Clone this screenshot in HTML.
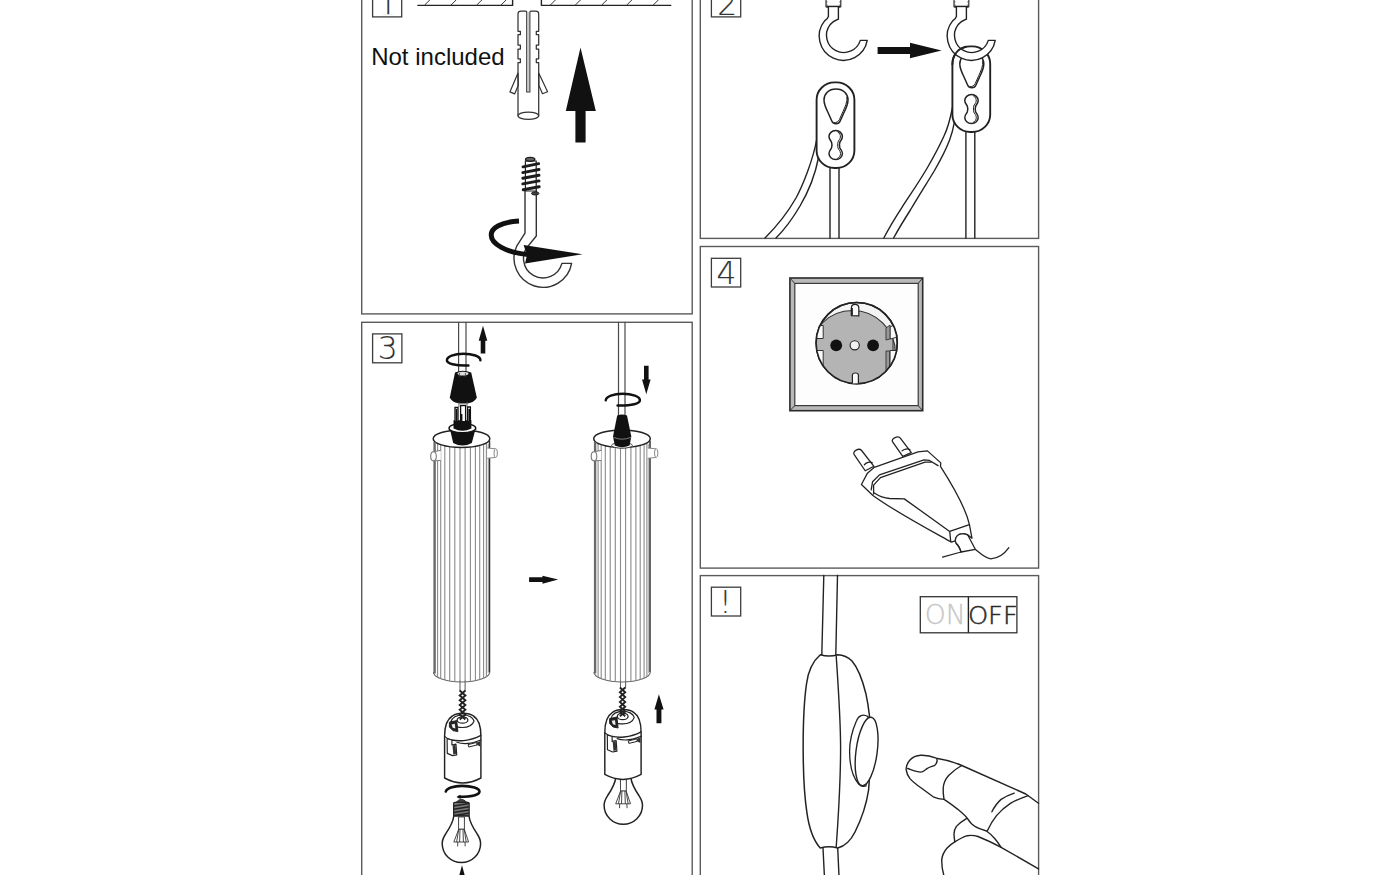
<!DOCTYPE html>
<html lang="en">
<head>
<meta charset="utf-8">
<title>Assembly instructions</title>
<style>
html,body{margin:0;padding:0;background:#fff;width:1400px;height:875px;overflow:hidden}
svg{display:block;position:absolute;left:0;top:0}
.b{fill:none;stroke:#5a5a5a;stroke-width:1.4}
.l{fill:none;stroke:#222;stroke-width:1.4;stroke-linecap:round;stroke-linejoin:round}
.w{fill:#fff;stroke:#222;stroke-width:1.4;stroke-linecap:round;stroke-linejoin:round}
.t{fill:none;stroke:#333;stroke-width:1}
.k{fill:#111;stroke:none}
.num{font-family:"DejaVu Sans Light","DejaVu Sans",sans-serif;font-weight:200;fill:#333;stroke:#333;stroke-width:.15}
.box{fill:#fff;stroke:#3c3c3c;stroke-width:1.3}
</style>
</head>
<body>
<svg width="1400" height="875" viewBox="0 0 1400 875">
<!-- PANEL BORDERS -->
<g class="b">
<rect x="361.7" y="-10" width="330.5" height="323.9"/>
<rect x="700.3" y="-10" width="338.3" height="248.4"/>
<rect x="361.7" y="322.3" width="330.5" height="570"/>
<rect x="700.3" y="246.5" width="338.3" height="321.6"/>
<rect x="700.3" y="575.6" width="338.3" height="320"/>
</g>
<!-- PANEL1 -->
<g id="p1">
<!-- number box 1 -->
<rect class="box" x="372.6" y="-12" width="29.1" height="28.9"/>
<clipPath id="c1"><rect x="372" y="-12" width="30" height="26.15"/></clipPath><text class="num" x="377.8" y="15.6" font-size="31.4" clip-path="url(#c1)">1</text>
<!-- ceiling -->
<path class="l" d="M417.9,5.4H512.6V-2M541.4,-2V5.4H670.7"/>
<path class="t" d="M424.3,5.4l6,-6M450.7,5.4l6,-6M476.4,5.4l6,-6M500.7,5.4l6,-6M550,5.4l6,-6M575,5.4l6,-6M601.4,5.4l6,-6M626.4,5.4l6,-6M652.9,5.4l6,-6"/>
<text x="371.2" y="65" font-size="24" style="font-family:'Liberation Sans',sans-serif;fill:#111">Not included</text>
<!-- wall plug -->
<path class="w" d="M518,73 L509.9,91.9 L514.6,93.9 L518.3,85.2Z" style="stroke:#333;stroke-width:1.2"/>
<path class="w" d="M538.7,73 L547.6,91.7 L542.5,93.7 L538.9,85.6Z" style="stroke:#333;stroke-width:1.2"/>
<path d="M518,115.7 V62.6 H520.4 V58.8 H518 V49 H520.4 V45 H518 V34.7 H520.4 V31.3 H518 V13.8 Q518,11 521,11 H525.6 Q526.8,11 526.8,12.4 V91.9 H529.8 V12.4 Q529.8,11 531,11 H535.7 Q538.7,11 538.7,13.8 V31.3 H536.3 V34.7 H538.7 V45 H536.3 V49 H538.7 V58.8 H536.3 V62.6 H538.7 V115.7" style="fill:none;stroke:#333;stroke-width:1.25;stroke-linejoin:round"/>
<rect x="527.3" y="12" width="2" height="79.5" style="fill:#c8c8c8"/>
<ellipse cx="528.35" cy="115.7" rx="10.35" ry="3.7" style="fill:#fff;stroke:#333;stroke-width:1.25"/>
<!-- big arrow -->
<path class="k" d="M580.5,47.5 L595.8,111.1 H585.6 V142.6 H575.4 V111.1 H565.8Z"/>
<!-- screw hook -->
<path class="w" d="M525,190 V233.2 L516.7,246.2 A29,29 0 1 0 571.6,263.4 L561.9,263.4 A19.5,19.5 0 1 1 529.2,244.7 L536.3,236 V190" style="stroke:#333"/>
<path d="M525.4,161 V191 H536.2 V161Z" style="fill:#fff;stroke:#222;stroke-width:1.2"/>
<path d="M523,166.8 L538.6,163.7 M522.8,172.6 L539,169.5 M522.8,178.2 L539,175.3 M522.8,183.9 L539,180.9 M523.2,189.7 L539.2,186.7" style="fill:none;stroke:#1c1c1c;stroke-width:2.9;stroke-linecap:round"/>
<ellipse cx="530.2" cy="159.3" rx="4.6" ry="1.9" style="fill:#666;stroke:#1c1c1c;stroke-width:1.4"/>
<ellipse cx="535.2" cy="193.4" rx="3.7" ry="1.6" style="fill:#444;stroke:#1c1c1c;stroke-width:1"/>
<!-- rotation arrow -->
<path d="M519,221 C501,222 491.2,228 491.2,235 C491.2,244 506,252.5 528,254.5" style="fill:none;stroke:#111;stroke-width:5"/>
<path class="k" d="M523.6,245 L582.5,254.3 L525,263.6 L527,255Z"/>
</g>
<!-- PANEL2 -->
<g id="p2">
<rect class="box" x="711.4" y="-12" width="29.3" height="28.9"/>
<text class="num" x="717.3" y="14.7" font-size="31.4">2</text>
<defs>
<g id="hook">
<path class="w" d="M826,-4 V6.8 H840.8 V-4" style="stroke:#333;stroke-width:1.2"/>
<path d="M826.6,6.6H840.2" style="stroke:#222;stroke-width:1.8;fill:none"/>
<path class="t" d="M826,-1h1.6M826,2h1.6M826,5h1.6M839.2,-1h1.6M839.2,2h1.6M839.2,5h1.6" style="stroke-width:.7"/>
<path class="w" d="M828.4,7.2 V16.4 Q828,18.6 824.6,20.9 A24.2,24.2 0 1 0 867.23,40.4 H860.3 A17.3,17.3 0 1 1 830,24.8 Q833,21.2 836.4,20 L838.4,19.2 V7.2"/>
</g>
<g id="grip">
<rect class="w" x="816.6" y="82.4" width="37.8" height="85.6" rx="18" ry="17.5" style="stroke-width:1.9"/>
<path class="l" d="M836,89 C843.5,89 848,94 848,100 C848,104.5 846,108.5 844,112.5 L840.2,121 C838.6,124.8 833.4,124.8 831.8,121 L828,112.5 C826,108.5 824,104.5 824,100 C824,94 828.5,89 836,89Z" style="stroke-width:1.5"/>
<path class="l" d="M847,97 C847.5,102 845,107 843,111.5 L839.4,119.6 C838.4,122 836,122.8 834.5,122.6" style="stroke-width:1"/>
<path class="l" d="M835.7,130.6 C839.6,130.6 842.4,133.4 842.4,136.6 C842.4,139.4 840.6,140.6 839.9,142 C839.4,143.5 839.4,146.5 839.9,148 C840.6,149.5 842.4,150.8 842.4,153.6 C842.4,156.8 839.6,159.6 835.7,159.6 C831.8,159.6 829,156.8 829,153.6 C829,150.8 830.8,149.5 831.5,148 C832,146.5 832,143.5 831.5,142 C830.8,140.6 829,139.4 829,136.6 C829,133.4 831.8,130.6 835.7,130.6Z" style="stroke-width:1.5"/>
<path class="l" d="M837.8,132 C839.8,133.2 840.6,135 840.4,137 C840.2,139.3 838.4,140.5 838,142 C837.6,143.5 837.6,146.5 838,148 C838.4,149.6 840.4,150.8 840.5,153.4 C840.6,155.6 839.4,157.4 837.6,158.3" style="stroke-width:1"/>
</g>
</defs>
<!-- left cables -->
<path class="l" d="M816.8,139 C813,160 803,185 796,198 C788,212 776,227 765,238"/>
<path class="l" d="M818.4,158 C815,176 807,194 800,206 C793,218 784,230 776,238"/>
<path class="l" d="M830,168V238M839,168V238"/>
<use href="#hook"/>
<use href="#grip"/>
<!-- arrow -->
<path class="k" d="M877.6,46.9 H910 V42.7 L941.6,50.5 L910,58.2 V54 H877.6Z"/>
<!-- right cables -->
<path class="l" d="M952.6,107 C950,120 948,128 944,136 C939,147 933,158 927.2,168 C919,182 910,195 902,207.3 C895,218 889,228 883.8,238"/>
<path class="l" d="M954.4,122 C953,130 951.5,135 949.6,140 C945,152 940,161 934.2,171 C927,183 918,197 910.4,210 C904,220 898,230 893.6,238"/>
<path class="l" d="M965.9,132V238M974.8,132V238"/>
<use href="#grip" transform="translate(135.8 -36)"/>
<use href="#hook" transform="translate(128 0)"/>
<path class="l" d="M952.4,64.5 C952.4,55 958,48.5 966,46.8 " style="stroke-width:1.9"/>
</g>
<!-- PANEL3 -->
<g id="p3">
<rect class="box" x="372.6" y="333.9" width="29.3" height="28.9"/>
<text class="num" x="377.7" y="359.3" font-size="31.4">3</text>
<defs>
<g id="tube">
<!-- pins -->
<path d="M433.4,438.7 V672 A28.2,10 0 0 0 489.8,672 V438.7Z" style="fill:#fff;stroke:none"/><path d="M433.4,672 A28.2,10 0 0 0 489.8,672" style="fill:none;stroke:#666;stroke-width:1.1"/>
<path d="M437.6,443.4V677.4M440.7,444.6V678.8M444.8,445.7V680.1M449.7,446.6V681.1M454.8,447.2V681.7M460.0,447.4V682.0M465.1,447.3V681.9M470.4,447.0V681.5M475.4,446.3V680.7M479.7,445.4V679.7M483.6,444.1V678.2M486.4,442.8V676.8" style="fill:none;stroke:#8a8a8a;stroke-width:1.1"/>
<ellipse class="w" cx="461.5" cy="438.7" rx="28.3" ry="8.7" style="stroke-width:1.5"/>
<path d="M434.6,442V673.5" style="fill:none;stroke:#6a6a6a;stroke-width:2.4"/><path d="M488.2,444V673" style="fill:none;stroke:#aaa;stroke-width:1"/><path d="M489.5,441V672" style="fill:none;stroke:#333;stroke-width:1.5"/>
<path d="M487.2,448 L495.6,448.8 V457.4 L487.2,458.3Z" style="fill:#fff;stroke:none"/>
<path d="M487.2,448 L495.6,448.8 M495.6,457.4 L487.2,458.3" style="fill:none;stroke:#888;stroke-width:1"/>
<ellipse cx="495.7" cy="453.1" rx="1.7" ry="4.4" style="fill:#fff;stroke:#888;stroke-width:1"/>
<path d="M433.6,451.6 L440.8,450.4 V460.6 L433.6,460.9Z" style="fill:#fff;stroke:none"/>
<path d="M433.6,451.7 L440.8,450.4 M433.8,460.9 L440.8,460.4" style="fill:none;stroke:#777;stroke-width:1"/>
<ellipse cx="433.5" cy="456.3" rx="2.8" ry="4.6" style="fill:#fff;stroke:#777;stroke-width:1.1"/>
</g>
<g id="holder" transform="translate(462.75 0) scale(0.963 1) translate(-462.85 0)">
<path class="w" d="M444,778 V736 C444,726 447,719 452,716 C455,713.6 459,713.2 462.8,713.2 C467,713.2 471,713.6 474,716 C479,719 481.7,726 481.7,736 V778 Q462.8,788 444,778Z" style="stroke-width:1.5"/>
<!-- top cap -->
<path class="l" d="M450.4,722 C452,717 457,715 462.8,715 C468,715 473,717 474.6,721 C473,725.5 468,727.5 462.5,727.5 C458,727.5 455,726.6 452.8,725" style="stroke-width:1.2"/>
<ellipse cx="462.6" cy="720" rx="5.6" ry="3.2" style="fill:#fff;stroke:#222;stroke-width:1.3"/>
<path d="M449,722.2 L456.6,720.6 L457.8,731.6 L452.6,730.6 L449,727Z" style="fill:#222;stroke:#222;stroke-width:1"/>
<path d="M451.2,724.4 L454.6,723.8 L455.2,728.6 L452.4,727.8Z" style="fill:#eee;stroke:none"/>
<!-- seam -->
<path class="l" d="M444.4,736.6 C446,738 448,739 450,739.6 M456.8,742.2 C463,744.4 472,743.8 481.6,740" style="stroke-width:1.2"/>
<path class="l" d="M481.6,735.4 C476,738.4 470,740 464,740.6 C459,741 455,740.8 451.6,740"/>
<!-- clip -->
<path class="w" d="M446.6,738.6 L451.6,740 V745 L455.8,744.2 L456.6,754.8 L452.2,755.6 L446.8,753.4Z" style="stroke-width:1.2"/>
<path d="M452.2,745.4 L455.4,744.8 L456,753.8 L453,754.6Z" style="fill:#333"/>
<!-- slot right -->
<path d="M468.4,744.6 L477.4,742.4 L477.6,745 L469,747Z" style="fill:#fff;stroke:#222;stroke-width:1"/>
<path d="M477.4,742.4 L481,741 V746.6 L477.6,745Z" style="fill:#333"/>
</g>
<g id="bulb">
<path class="w" d="M453.8,816 C453,823 449.6,828 445.6,834 C442.6,838.6 442.2,841 442.2,843.4 C442.2,854 450.8,862.5 461.4,862.5 C472,862.5 480.6,854 480.6,843.4 C480.6,841 480.2,838.6 477.2,834 C473.2,828 469.8,823 469,816Z" style="stroke-width:1.5"/>
<!-- filament -->
<path d="M458.4,817 L458.8,829 L453.8,842 H468.6 L464.2,829 L464.4,817 M458.8,829 H464.2 M460.4,817 L459.6,842 M462.6,817 L463.4,842 M457.8,842 L457.6,846.4 M465,842 L465.2,846.4 M458.8,829 L456.6,842 M464.2,829 L466.2,842" style="fill:none;stroke:#333;stroke-width:.9"/>
<path d="M458.6,817 H464.4 V829 H458.6Z" style="fill:#fff;stroke:#333;stroke-width:.8"/>
</g>
</defs>

<!-- LEFT ASSEMBLY -->
<path class="l" d="M458.6,322.3V374M466,322.3V374" style="stroke:#4a4a4a;stroke-width:1.2"/>
<path class="k" d="M483,325.8 L487.3,340.8 H485.3 V353.4 H480.7 V340.8 H478.7Z"/>
<use href="#tube"/>
<!-- lower black cone + collar -->
<path class="k" d="M450.4,431 L453.2,443 Q462.5,448 471.8,443 L475,431Z"/>
<ellipse cx="462.4" cy="428.2" rx="13.4" ry="4.6" style="fill:#fff;stroke:#111;stroke-width:1.4"/>
<!-- inner relief -->
<path d="M453.5,420.2 H471.4 V428.4 Q462.5,433 453.5,428.4Z" class="k"/>
<path d="M455,421 V407.5 H458 V421 M460.6,421 V405.5 H465.6 V421 M467.6,421 V407 H470.4 V421" style="fill:#fff;stroke:#111;stroke-width:1.3"/>
<path d="M456.5,421V409M469.2,421V409M461.6,421V414" style="fill:none;stroke:#111;stroke-width:1.6"/>
<!-- top cap -->
<path class="k" d="M455,372.6 L449.8,397.4 C452,402.4 458,403.6 463.3,403.6 C468.6,403.6 474.6,402.4 476.8,397.4 L471.2,372.6 Q463,368.8 455,372.6Z"/>
<ellipse cx="463" cy="373.6" rx="5.6" ry="1.9" style="fill:#ddd"/>
<path d="M459.4,373V376.6M465.4,373V376.6" style="stroke:#555;stroke-width:1;fill:none"/>
<path d="M458.9,402V407M467,402V407" style="fill:none;stroke:#555;stroke-width:.9"/>
<!-- rotation arc -->
<path d="M480.4,360.2 C480.6,356.4 472.5,353.7 463.5,353.7 C454,353.7 446.9,356.6 446.9,360.2 C446.9,363.6 455,365.9 468.4,365.5" style="fill:none;stroke:#111;stroke-width:2.5;stroke-linecap:round"/>
<!-- under tube -->
<path class="l" d="M460,681V691M465.1,681V691" style="stroke-width:1.1;stroke:#666"/>
<use href="#holder"/>
<path d="M459.7,690.6L465.4,695.4L459.7,700.2L465.4,705.0L459.7,709.8L465.4,714.6L459.7,719.4M465.4,690.6L459.7,695.4L465.4,700.2L459.7,705.0L465.4,709.8L459.7,714.6L465.4,719.4" style="fill:none;stroke:#222;stroke-width:1.9"/>
<!-- bulb rotation -->
<path d="M445.8,791.6 C446.5,788.2 453.5,785.9 462,785.9 C472,785.9 479.5,788.4 479.5,791.6 C479.5,794.8 472,796.9 459,796.9" style="fill:none;stroke:#111;stroke-width:2.6;stroke-linecap:round"/>
<path class="k" d="M456.4,796.9 L460.6,794.8 V798.8Z"/>
<!-- bulb screw -->
<path d="M456,802.4 Q461.4,796.4 466.8,802.4Z" style="fill:#444;stroke:#222;stroke-width:1"/>
<rect x="453.6" y="802.4" width="15.6" height="13.8" rx="1.2" style="fill:#777;stroke:#222;stroke-width:1.2"/>
<path d="M453.8,806 L469,803.6 M453.8,809.2 L469,806.8 M453.8,812.4 L469,810 M453.8,815.4 L469,813.2" style="fill:none;stroke:#222;stroke-width:1.5"/>
<use href="#bulb"/>
<path class="k" d="M462,865.2 L466,880 H458Z"/>
<!-- middle arrow -->
<path class="k" d="M529.1,577.3 H542.5 V575.7 L558.2,579.6 L542.5,583.8 V581.9 H529.1Z"/>

<!-- RIGHT ASSEMBLY -->
<path class="l" d="M618.5,322.3V416M625,322.3V416" style="stroke:#4a4a4a;stroke-width:1.2"/>
<path class="k" d="M646.3,394.2 L650.6,379.4 H648.6 V365.7 H644 V379.4 H642Z"/>
<use href="#tube" transform="translate(160.5 0)"/>
<ellipse cx="622" cy="445.4" rx="10.4" ry="2.8" style="fill:#fff;stroke:#333;stroke-width:.9"/>
<path class="k" d="M617.2,415.6 Q622,413.6 627,415.6 L631.3,436.4 L629.6,445.6 Q622,449 614.8,445.6 L613,436.4Z"/>
<path d="M613.6,437.4 Q622,441 630.8,437.4" style="fill:none;stroke:#888;stroke-width:.9"/>
<path d="M605.8,400.2 C606,396.4 613.5,393.8 622.6,393.8 C632.4,393.8 639.9,396.6 639.9,400.2 C639.9,403.6 632,405.8 617.6,405.5" style="fill:none;stroke:#111;stroke-width:2.5;stroke-linecap:round"/>
<path class="l" d="M620.5,681V688M625.6,681V688" style="stroke-width:1.1;stroke:#666"/>
<use href="#bulb" transform="translate(161.9 -38.2)"/>
<use href="#holder" transform="translate(160.2 -3.6)"/>
<path d="M619.9,687.5L625.2,692.3L619.9,697.1L625.2,701.9L619.9,706.7L625.2,711.5L619.9,716.3M625.2,687.5L619.9,692.3L625.2,697.1L619.9,701.9L625.2,706.7L619.9,711.5L625.2,716.3" style="fill:none;stroke:#222;stroke-width:1.9"/>
<path class="k" d="M658.9,694.3 L663.6,709.4 H661.4 V723.3 H656.5 V709.4 H654.4Z"/>
</g>
<!-- PANEL4 -->
<g id="p4">
<rect class="box" x="711.4" y="258.3" width="29.3" height="28.7"/>
<text class="num" x="716.4" y="284.1" font-size="31.4">4</text>
<!-- socket frame -->
<rect x="789.9" y="278" width="132.8" height="132.7" style="fill:#b9b9b9;stroke:#2a2a2a;stroke-width:1.6"/>
<rect x="794.8" y="283.4" width="123.4" height="122.2" style="fill:#fdfdfd;stroke:#3a3a3a;stroke-width:1.2"/>
<path d="M789.9,278l4.9,5.4M922.7,278l-4.5,5.4M789.9,410.7l4.9,-5.1M922.7,410.7l-4.5,-5.1" style="stroke:#333;stroke-width:1;fill:none"/>
<!-- socket -->
<clipPath id="sock"><circle cx="856.7" cy="343.1" r="40.4"/></clipPath>
<circle cx="856.7" cy="343.1" r="40.6" style="fill:#f4f4f4;stroke:#222;stroke-width:1.5"/>
<g clip-path="url(#sock)">
<circle cx="852.5" cy="353.5" r="43" style="fill:#b4b4b4;stroke:#333;stroke-width:1.2"/>
<!-- left cutouts -->
<path d="M815,325.5 H823.2 V338.5 H815Z M815,350.5 H823.2 V366 H815Z" style="fill:#fafafa;stroke:#333;stroke-width:1"/>
<!-- right cutouts -->
<path d="M890,327 L900,322 V336.5 L890,339Z M890,350.5 H900 V361 L890,369Z" style="fill:#fafafa;stroke:#333;stroke-width:1"/>
<path d="M886,328 L890,325 V339 L886,340Z M886,351 H889.6 V369 L886,372Z" style="fill:#999;stroke:#333;stroke-width:.9"/>
<path d="M893,339.5 V351" style="stroke:#333;stroke-width:1;fill:none"/>
</g>
<circle cx="856.7" cy="343.1" r="40.6" style="fill:none;stroke:#222;stroke-width:1.6"/>
<!-- earth clips -->
<path d="M851.4,315.6 V308 Q851.4,304.4 855,304.4 Q858.8,304.4 858.8,308 V315.8Z" style="fill:#fafafa;stroke:#222;stroke-width:1.2"/>
<path d="M851.9,315.4 V308" style="stroke:#222;stroke-width:2;fill:none"/>
<path d="M852.4,383.4 V375 Q852.4,373 855.4,373 Q858.4,373 858.4,375 V383.2" style="fill:#fafafa;stroke:#222;stroke-width:1.2"/>
<circle class="k" cx="836.2" cy="345.3" r="5.9"/>
<circle class="k" cx="873.1" cy="345.3" r="5.9"/>
<circle cx="854.7" cy="345.3" r="4.6" style="fill:#f2f2f2;stroke:#222;stroke-width:1.1"/>
<!-- plug -->
<g transform="translate(840 420) scale(0.17143)">
<g style="fill:#fff;stroke:#222;stroke-width:7.5;stroke-linecap:round;stroke-linejoin:round">
<path d="M147,296 L82,200 C72,182 110,160 126,178 L198,270Z"/>
<path d="M142,262 C150,250 176,240 188,250" style="fill:none"/>
<path d="M366,212 L306,126 C296,108 340,88 352,106 L416,190Z"/>
<path d="M362,180 C372,170 396,164 408,174" style="fill:none"/>
<path d="M125,376 L160,310 L200,276 L455,186 L510,180 L588,250 L586,270 C650,370 730,500 755,610 L770,690 L748,672 L700,665 L672,705 L650,712 C520,640 330,540 192,440Z"/>
<path d="M182,408 L190,360 L230,320 L490,232 L522,236 L572,266" style="fill:none"/>
<path d="M196,432 L196,380 L236,336 L496,246 L532,246" style="fill:none"/>
<path d="M200,426 C230,446 260,456 290,458 L375,460 L640,650 L755,610 M640,650 L646,710" style="fill:none"/>
<path d="M672,705 C672,680 690,664 710,664 C735,662 750,672 752,684 L790,755 L706,770 C700,750 690,730 678,720Z"/>
<path d="M678,720 C690,730 700,750 706,770" style="fill:none"/>
<path d="M598,800 L706,770 M790,755 C820,780 850,808 880,810 C920,808 960,780 985,745" style="fill:none"/>
</g>
</g>
</g>
<!-- PANEL5 -->
<g id="p5">
<rect class="box" x="711.4" y="587.2" width="29.3" height="28.8"/>
<text class="num" x="718.9" y="613.4" font-size="31.8">!</text>
<!-- ON OFF -->
<rect x="920.3" y="596.7" width="96.6" height="36.1" style="fill:#fff;stroke:#333;stroke-width:1.3"/>
<path d="M968.4,596.7V632.8" style="stroke:#222;stroke-width:1.4;fill:none"/>
<text class="num" x="924.7" y="624.3" font-size="26.7" style="fill:#c6c6c6;stroke:#c6c6c6;stroke-width:.3">ON</text>
<text class="num" x="967.9" y="624.4" font-size="24.6" textLength="49.8" lengthAdjust="spacingAndGlyphs" style="fill:#2a2a2a;stroke:#2a2a2a;stroke-width:.5">OFF</text>
<!-- cable top -->
<path class="l" d="M823.8,575.5 L821.8,655 M837.5,575.5 L835.8,655"/>
<path class="l" d="M823,848 L824.4,876 M837.7,848 L839,876"/>
<!-- switch body -->
<path class="w" d="M820.3,654.8 C812,662 808,672 806.5,684 C802,715 802,780 806.8,811.8 C809,828 813,840 820.3,848 C826,846.5 832,846.5 837.7,848 C846,846 851,840 855,832 C862,818 866.5,804 868.6,790 C870,772 871,752 870.8,738 C870.5,722 869,708 865.9,693.7 C862.5,680 858,668 852,661 C848,657 843,655 837.7,654.8 C832,656.5 826,656.5 820.3,654.8Z" style="stroke-width:1.5"/>
<path class="l" d="M836.2,656 C838.5,690 840.6,720 840.6,747.4 C840.6,780 838.5,815 836.2,847"/>
<!-- rocker -->
<path class="w" d="M868,716.6 C863,713.6 858.6,715.6 856.4,721 C851.6,732 849.6,742 849.6,751 C849.6,765 852.6,777 858.6,784 C860.6,786.2 863.6,786.8 866,786Z" style="stroke-width:1.3"/>
<ellipse class="w" cx="866.6" cy="751.5" rx="10.6" ry="34.5" transform="rotate(7.5 866.6 751.5)" style="stroke-width:1.4"/>
<!-- finger -->
<g class="l" style="stroke-width:1.4">
<path d="M1038.5,803.3 L1025.8,794 L961.8,765.5 C953,761.5 945,759.5 936.3,758.2 C931,756 926,755 920.9,755.2 C916,755.4 912.5,757 910,760 C907,763.5 905.8,766.5 906.2,769.8 C906.6,773.5 908,776 910,778.6 C913,782 917,785 920.9,787.8 L933.2,796.8 C937,798.5 940.5,799.2 944,799.4 C949,802.5 953.5,806 957.9,809.4 C961,812 964,814.5 966.4,817.2 C968.5,819.8 970,822.2 971.8,824.1 C975.5,827.5 981,829.5 986.5,831 C989.8,833.2 992.5,836 994.9,838.8 C997.2,841.5 999.2,844.4 1001.1,847.3"/>
<path d="M907.7,768.5 C912,770 916.5,772 920.9,772.1 C923.5,772 925.3,770 927,768.6 C929.5,767 932.5,766.4 934.8,765.3 C936.8,763.5 937.3,761.5 937,759.3"/>
<path d="M961.8,765.5 C957,768 952.5,771.5 948.6,775.5 C945.5,779 943.6,783.5 943.2,787.8 C943,791.5 943.3,795.5 944,799.4"/>
<path d="M1028.1,795.6 C1022,797.8 1016,800.2 1010.4,803.3 C1005,806.8 1000.4,811 996.5,815.6 C992.6,820.5 989.6,825.8 987.2,831"/>
<path d="M1014.2,793.2 C1009.6,794.8 1005,796.8 1001.1,799.4 C997.2,802.8 994.2,807.2 991.9,811.8"/>
<path d="M966.4,818.7 C962.5,821 959,823.5 956.4,826.4 C954.6,829 954,831.5 954,834.1 C954,836.8 954.4,839.4 954.8,841.9"/>
<path d="M944,876 C942.6,871 941.7,866 941.7,860.4 C942,855.5 944,851.5 947.1,848 C949.5,845.5 952,843.6 954.8,841.9 C958.5,839.6 962.5,837.2 967.2,835.7 C970.8,835 974.5,835.4 978,836.5 C985.5,839.4 993.5,843.4 1001.1,847.3 L1038.5,868.9"/>
</g>
</g>
</svg>
</body>
</html>
